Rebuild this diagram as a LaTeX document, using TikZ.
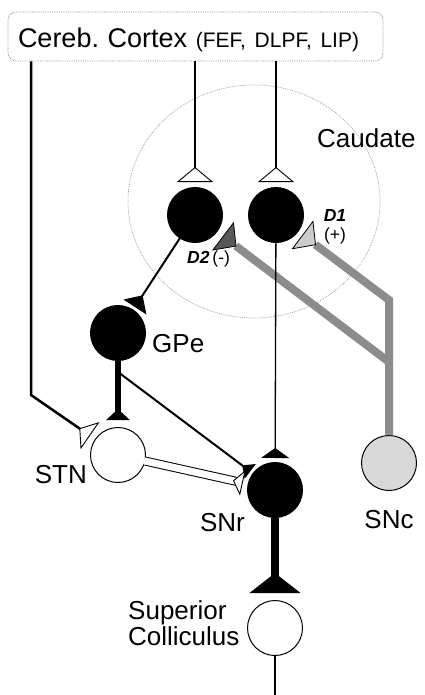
\documentclass[tikz,border=0pt]{standalone}
\usepackage{fontspec}
\setmainfont{Liberation Sans}
\usetikzlibrary{arrows.meta, calc}
\frenchspacing

\begin{document}
\begin{tikzpicture}[
  x=1pt, y=-1pt,
  font=\fontsize{26}{26}\selectfont,
  ctxbox/.style = {
    draw=black!45, densely dotted, line width=0.8pt, rounded corners=8pt,
    minimum height=49pt, text width=355pt, inner xsep=10pt, inner ysep=0pt,
    text height=27pt, text depth=4pt, align=left
  },
  cell/.style = {circle, draw=black, line width=1pt, minimum size=55pt, inner sep=0pt},
  inh/.style = {cell, fill=black},
  exc/.style = {cell, fill=white},
  lbl/.style = {inner sep=0pt},
  dlbl/.style = {lbl, font=\fontsize{17.5}{19}\selectfont},
  wire/.style = {line width=#1},
  wsyn/.style 2 args = {-{Triangle[reversed, length=#1, width=#2, fill=white, line width=0.9pt]}},
  bsyn/.style 2 args = {-{Triangle[reversed, length=#1, width=#2]}},
  wbar/.style = {-{Triangle[reversed, length=10pt, width=26pt, color=black, fill=white, line width=0.9pt]}},
  dopa/.style = {draw=black!45, line width=8pt},
  dsyn/.style = {-{Triangle[reversed, length=17pt, width=36pt, color=black, fill=#1, line width=0.8pt]}}
]
\useasboundingbox (0,0) rectangle (424,695);

\draw[draw=black!35, densely dotted, line width=0.8pt] (254,201.5) ellipse [x radius=126pt, y radius=116.5pt];

\node[ctxbox] (cortex) at (195.5,36.5)
  {{\fontsize{27}{30}\selectfont Cereb. Cortex} {\fontsize{21}{24}\selectfont (FEF, DLPF, LIP)}};

\node[inh] (caudL) at (195,215) {};
\node[inh] (caudR) at (276,215) {};
\node[inh] (gpe)   at (118,333) {};
\node[exc] (stn)   at (118,455) {};
\node[inh] (snr)   at (275,490) {};
\node[exc] (sc)    at (275,628) {};
\node[cell, fill=black!15] (snc) at (389,463) {};

\coordinate (ctxbend)  at (31,395);
\coordinate (gpeax)    at (118,372);
\coordinate (sncsplit) at (389,362);
\coordinate (sncbend)  at (389,300);
\coordinate (scout)    at (275,695);

\draw[dopa, dsyn=black!65, shorten >=7pt] (snc) -- (sncsplit) -- (caudL);
\draw[dopa, dsyn=black!20, shorten >=5pt] (sncsplit) -- (sncbend) -- (caudR);

\draw[wire=2pt, wsyn={15pt}{36pt}, shorten >=5pt] (cortex.south -| caudL) -- (caudL);
\draw[wire=2pt, wsyn={15pt}{36pt}, shorten >=5pt] (cortex.south -| caudR) -- (caudR);
\draw[wire=2.5pt, wsyn={13pt}{33pt}, shorten >=6pt] (cortex.south -| ctxbend) -- (ctxbend) -- (stn);
\draw[wire=2pt, bsyn={14pt}{27pt}, shorten >=3pt] (caudL) -- (gpe);
\draw[wire=5.5pt, bsyn={11pt}{23pt}, shorten >=7pt] (gpe) -- (stn);
\draw[wire=2pt, bsyn={10pt}{18pt}, shorten >=3pt] (gpeax) -- (snr);
\draw[wire=1.3pt, bsyn={10pt}{28pt}, shorten >=4pt] (caudR) -- (snr);
\draw[wire=9pt, shorten >=11pt] (stn) -- (snr);
\draw[white, wire=7pt, shorten <=-1.5pt, shorten >=11.5pt] (stn) -- (snr);
\draw[white, wire=0.1pt, wbar, shorten >=5pt] (stn) -- (snr);
\draw[wire=8pt, bsyn={20pt}{50pt}, shorten >=7pt] (snr) -- (sc);
\draw[wire=1.5pt] (sc) -- (scout);

\node[lbl, anchor=base west] (caudlbl) at (317,148) {Caudate};
\node[lbl, anchor=base west] (gpelbl)  at (152,352) {GPe};
\node[lbl, anchor=base east] (stnlbl)  at (87,483)  {STN};
\node[lbl, anchor=base east] (snrlbl)  at (245,531) {SNr};
\node[lbl, anchor=base]      (snclbl)  at (389,528) {SNc};
\node[lbl, anchor=base west, align=left] (sclbl) at (128,645) {Superior\\Colliculus};
\node[dlbl, anchor=base west] (dtwolbl) at (187,263) {\textbf{\textit{D2}}\,(-)};
\node[dlbl, align=center] (donelbl) at (335,227) {\textbf{\textit{D1}}\\(+)};
\end{tikzpicture}
\end{document}
